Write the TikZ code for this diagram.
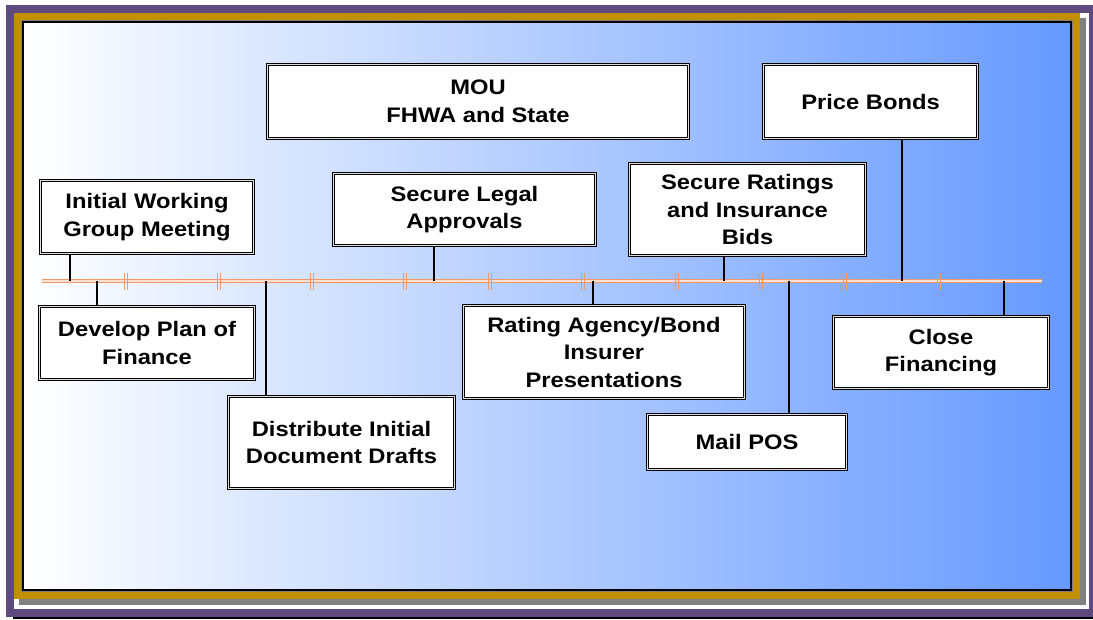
\documentclass[tikz,border=0pt]{standalone}
\usepackage{fontspec}
\setmainfont{Liberation Sans}
\newfontfamily\boxfont[FakeStretch=1.13]{Liberation Sans}
\definecolor{framepurple}{RGB}{94,74,126}
\definecolor{framegold}{RGB}{192,144,0}
\definecolor{framegray}{RGB}{128,128,128}
\definecolor{panelmid}{RGB}{196,210,255}
\definecolor{panelright}{RGB}{102,153,255}
\definecolor{tlorange}{RGB}{244,152,100}
\tikzset{
  evbox/.style={draw=black, line width=0.9pt, double=gray!25, double distance=1.3pt,
    fill=white, align=center, inner sep=0pt,
    font=\boxfont\fontsize{21}{27.5}\selectfont\bfseries},
  conn/.style={draw=black, line width=2.3pt},
  tlline/.style={draw=tlorange, line width=1.4pt, double=white!70!tlorange, double distance=1.1pt},
  tick/.style={draw=tlorange, line width=1.3pt}
}
\begin{document}
\begin{tikzpicture}[x=1pt,y=-1pt]
\useasboundingbox (0,0) rectangle (1093,619);
% frame
\fill[black] (13,615) rectangle (1093,619);
\fill[framepurple] (6,5) rectangle (1093,617);
\fill[white] (14,13) rectangle (1089,609);
\fill[framegray] (19,18) rectangle (1086,605);
\fill[framegold] (14,13) rectangle (1080,599);
\draw[framegray, line width=1.2pt] (22,21) rectangle (1072,591);
\shade[left color=white, middle color=panelmid, right color=panelright] (23,22) rectangle (1071,590);
\draw[black, line width=1.1pt] (23,22) rectangle (1071,590);
% timeline
\coordinate (tlL) at (42,281);
\coordinate (tlR) at (1042,281);
\draw[tlline] (tlL) -- (tlR);
\foreach \x in {126,219,312,405,490,583,677,761,845,939}{
  \draw[tick] (\x-1.6,273) -- (\x-1.6,290);
  \draw[tick] (\x+1.6,273) -- (\x+1.6,290);
}
% boxes
\node[evbox, minimum width=213pt, minimum height=73pt] (iwg) at (147,217) {Initial Working\\Group Meeting};
\node[evbox, minimum width=215pt, minimum height=73pt] (dpf) at (147,343) {Develop Plan of\\Finance};
\node[evbox, minimum width=226pt, minimum height=92pt] (did) at (341.5,442.5) {Distribute Initial\\Document Drafts};
\node[evbox, minimum width=262pt, minimum height=72pt] (sla) at (464.5,209.5) {Secure Legal\\Approvals};
\node[evbox, minimum width=421pt, minimum height=74pt] (mou) at (478,101.5) {MOU\\FHWA and State};
\node[evbox, minimum width=281pt, minimum height=93pt] (rab) at (604,352) {Rating Agency/Bond\\Insurer\\Presentations};
\node[evbox, minimum width=236pt, minimum height=92pt] (sri) at (747.5,209.5) {Secure Ratings\\and Insurance\\Bids};
\node[evbox, minimum width=199pt, minimum height=55pt] (mail) at (747,442) {Mail POS};
\node[evbox, minimum width=214pt, minimum height=74pt] (pb) at (870.5,101.5) {Price Bonds};
\node[evbox, minimum width=215pt, minimum height=72pt] (cf) at (941,352.5) {Close\\Financing};
% timeline attachment points
\coordinate (t1) at (70,281);
\coordinate (t2) at (97,281);
\coordinate (t3) at (266,281);
\coordinate (t4) at (434,281);
\coordinate (t5) at (593,281);
\coordinate (t6) at (724,281);
\coordinate (t7) at (789,281);
\coordinate (t8) at (902,281);
\coordinate (t9) at (1004,281);
% connectors
\draw[conn] (t1 |- iwg.south) -- (t1);
\draw[conn] (t2) -- (t2 |- dpf.north);
\draw[conn] (t3) -- (t3 |- did.north);
\draw[conn] (t4 |- sla.south) -- (t4);
\draw[conn] (t5) -- (t5 |- rab.north);
\draw[conn] (t6 |- sri.south) -- (t6);
\draw[conn] (t7) -- (t7 |- mail.north);
\draw[conn] (t8 |- pb.south) -- (t8);
\draw[conn] (t9) -- (t9 |- cf.north);
\end{tikzpicture}
\end{document}
